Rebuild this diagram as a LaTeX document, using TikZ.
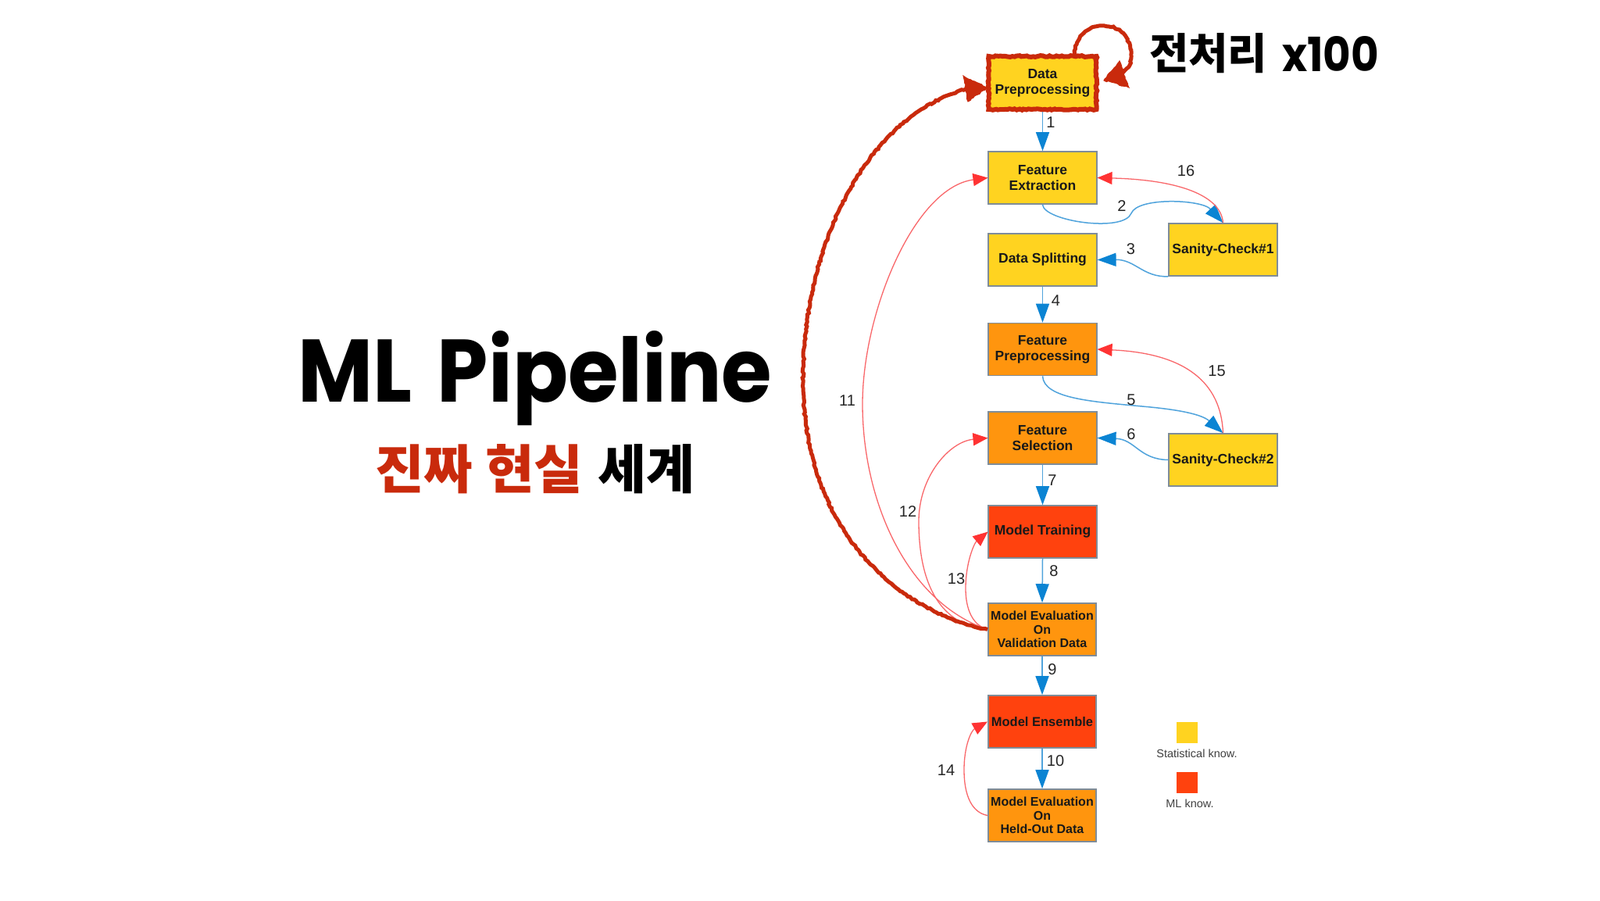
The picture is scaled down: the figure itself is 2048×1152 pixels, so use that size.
\documentclass[tikz,border=0pt]{standalone}
\usepackage{fontspec}
\usetikzlibrary{arrows.meta,decorations.pathmorphing}
\setmainfont{Liberation Sans}
\newfontfamily\cjkf{Noto Sans CJK KR}
\newfontfamily\popf{Poppins}
\definecolor{ybox}{HTML}{FFD320}
\definecolor{obox}{HTML}{FF950E}
\definecolor{rbox}{HTML}{FF420E}
\definecolor{edgeb}{HTML}{7F8C98}
\definecolor{bluel}{HTML}{4FA3DC}
\definecolor{blueh}{HTML}{0B84D3}
\definecolor{redl}{HTML}{F9676A}
\definecolor{redh}{HTML}{FF3333}
\definecolor{hand}{HTML}{C92A0C}
\tikzset{
  proc/.style={draw=edgeb,line width=1.6pt,minimum width=138.5pt,minimum height=67pt,inner sep=0pt,
    align=center,font=\fontsize{17.5}{20}\selectfont\bfseries,text=black!90},
  small/.style={proc,font=\fontsize{16}{17.7}\selectfont\bfseries},
  yb/.style={fill=ybox},ob/.style={fill=obox},rb/.style={fill=rbox},
  bluearrow/.style={draw=bluel,line width=1.5pt,-{Triangle[length=24pt,width=17pt,color=blueh]}},
  redarrow/.style={draw=redl,line width=1.3pt,-{Triangle[length=19pt,width=16pt,color=redh]}},
  num/.style={font=\fontsize{20}{22}\selectfont,text=black!85,inner sep=0pt},
  legendtxt/.style={font=\fontsize{14.5}{16}\selectfont,text=black!75,inner sep=0pt},
  rough/.style={decorate,decoration={random steps,segment length=3pt,amplitude=0.9pt}},
  handline/.style={draw=hand,line width=5pt,rough},
  handtip/.style={fill=hand,draw=hand,line width=1pt,rough},
  bigt/.style={inner sep=0pt,anchor=base west},
}
\begin{document}
\begin{tikzpicture}[x=1pt,y=-1pt]
\useasboundingbox[fill=white] (0,0) rectangle (2048,1152);

% titles
\node[bigt] (title) at (381,514) {\resizebox{607pt}{91pt}{\popf\bfseries ML\hspace{0.1em} Pipeline}};
\node[bigt,text=hand] (subr) at (480,625) {\resizebox{266pt}{57pt}{\cjkf\bfseries 진짜 현실}};
\node[bigt] (subb) at (765,625) {\resizebox{124pt}{57pt}{\cjkf\bfseries 세계}};
\node[bigt] (prek) at (1471,88) {\resizebox{151pt}{46pt}{\cjkf\bfseries 전처리}};
\node[bigt] (prex) at (1641,91) {\resizebox{124pt}{45pt}{\popf\bfseries x100}};

% boxes
\node[proc,yb,draw=hand,line width=6pt,rough,minimum width=138pt,minimum height=68pt] (dp) at (1334.5,106) {Data\\Preprocessing};
\node[proc,yb] (fe) at (1334.5,227.5) {Feature\\Extraction};
\node[proc,yb] (ds) at (1334.5,332.5) {Data Splitting};
\node[proc,yb] (sc1) at (1565.5,319.5) {Sanity-Check\#1};
\node[proc,ob] (fp) at (1334.5,447) {Feature\\Preprocessing};
\node[proc,ob] (fs) at (1334.5,560.5) {Feature\\Selection};
\node[proc,yb] (sc2) at (1565.5,588.5) {Sanity-Check\#2};
\node[proc,rb] (mt) at (1334.5,680.5) {Model Training};
\node[small,ob] (mv) at (1334,805.5) {Model Evaluation\\On\\Validation Data};
\node[proc,rb,font=\fontsize{16.5}{18}\selectfont\bfseries] (me) at (1334,923.5) {Model Ensemble};
\node[small,ob] (mh) at (1334,1043.5) {Model Evaluation\\On\\Held-Out Data};

% legend
\node[fill=ybox,minimum size=27pt,inner sep=0pt] (ly) at (1519.5,937.5) {};
\node[fill=rbox,minimum size=27pt,inner sep=0pt] (lr) at (1519.5,1001.5) {};
\node[legendtxt] (lyt) at (1532,964) {Statistical know.};
\node[legendtxt] (lrt) at (1523,1028) {ML know.};

% blue edges
\draw[bluearrow] (dp.south) -- (fe.north);
\draw[bluearrow] (fe.south) .. controls (1336,283) and (1438,298) .. (1448,273) .. controls (1456,252) and (1538,255) .. (sc1.north);
\draw[bluearrow] (sc1.south west) .. controls (1463,355) and (1453,332) .. (ds.east);
\draw[bluearrow] (ds.south) -- (fp.north);
\draw[bluearrow] (fp.south) .. controls (1336,510) and (1398,514) .. (1462,520) .. controls (1508,524) and (1538,530) .. (sc2.north);
\draw[bluearrow] (sc2.west) .. controls (1458,588) and (1453,562) .. (fs.east);
\draw[bluearrow] (fs.south) -- (mt.north);
\draw[bluearrow] (mt.south) -- (mv.north);
\draw[bluearrow] (mv.south) -- (me.north);
\draw[bluearrow] (me.south) -- (mh.north);

% red edges
\draw[redarrow] (sc1.north) .. controls (1563,250) and (1508,230) .. (fe.east);
\draw[redarrow] (sc2.north) .. controls (1563,490) and (1518,452) .. (fp.east);
\draw[redarrow] (mv.west) .. controls (1160,770) and (1104,640) .. (1104,517) .. controls (1104,400) and (1170,240) .. (fe.west);
\draw[redarrow] (mv.west) .. controls (1205,800) and (1176,750) .. (1176,667) .. controls (1176,610) and (1215,565) .. (fs.west);
\draw[redarrow] (mv.west) .. controls (1245,800) and (1236,780) .. (1236,753) .. controls (1236,720) and (1247,695) .. (mt.west);
\draw[redarrow] (mh.west) .. controls (1245,1040) and (1234,1020) .. (1234,985) .. controls (1234,955) and (1243,935) .. (me.west);

% hand-drawn edges
\coordinate (bigtip) at (1264,112);
\coordinate (looptip) at (1413,103);
\draw[handline] (mv.west) .. controls (1160,785) and (1030,690) .. (1028,490) .. controls (1026,330) and (1100,150) .. (1240,113);
\draw[handline] ([xshift=41pt]dp.north) .. controls (1378,45) and (1393,33) .. (1413,33) .. controls (1438,33) and (1448,55) .. (1448,72) .. controls (1448,85) and (1438,95) .. (1426,98);
\fill[handtip] (bigtip) -- (1233,97) -- (1239,130) -- cycle;
\fill[handtip] (looptip) -- (1433,78) -- (1445,112) -- cycle;

% labels
\node[num] (n1) at (1345,157) {1};
\node[num] (n2) at (1436,264) {2};
\node[num] (n3) at (1447.5,319) {3};
\node[num] (n4) at (1351.5,385) {4};
\node[num] (n5) at (1448,512) {5};
\node[num] (n6) at (1448,556) {6};
\node[num] (n7) at (1347,615) {7};
\node[num] (n8) at (1349,731) {8};
\node[num] (n9) at (1347,857) {9};
\node[num] (n10) at (1351,974) {10};
\node[num] (n11) at (1084.5,513) {11};
\node[num] (n12) at (1162,654.5) {12};
\node[num] (n13) at (1224,741) {13};
\node[num] (n14) at (1211,986) {14};
\node[num] (n15) at (1557.5,474.5) {15};
\node[num] (n16) at (1518,219) {16};
\end{tikzpicture}
\end{document}
